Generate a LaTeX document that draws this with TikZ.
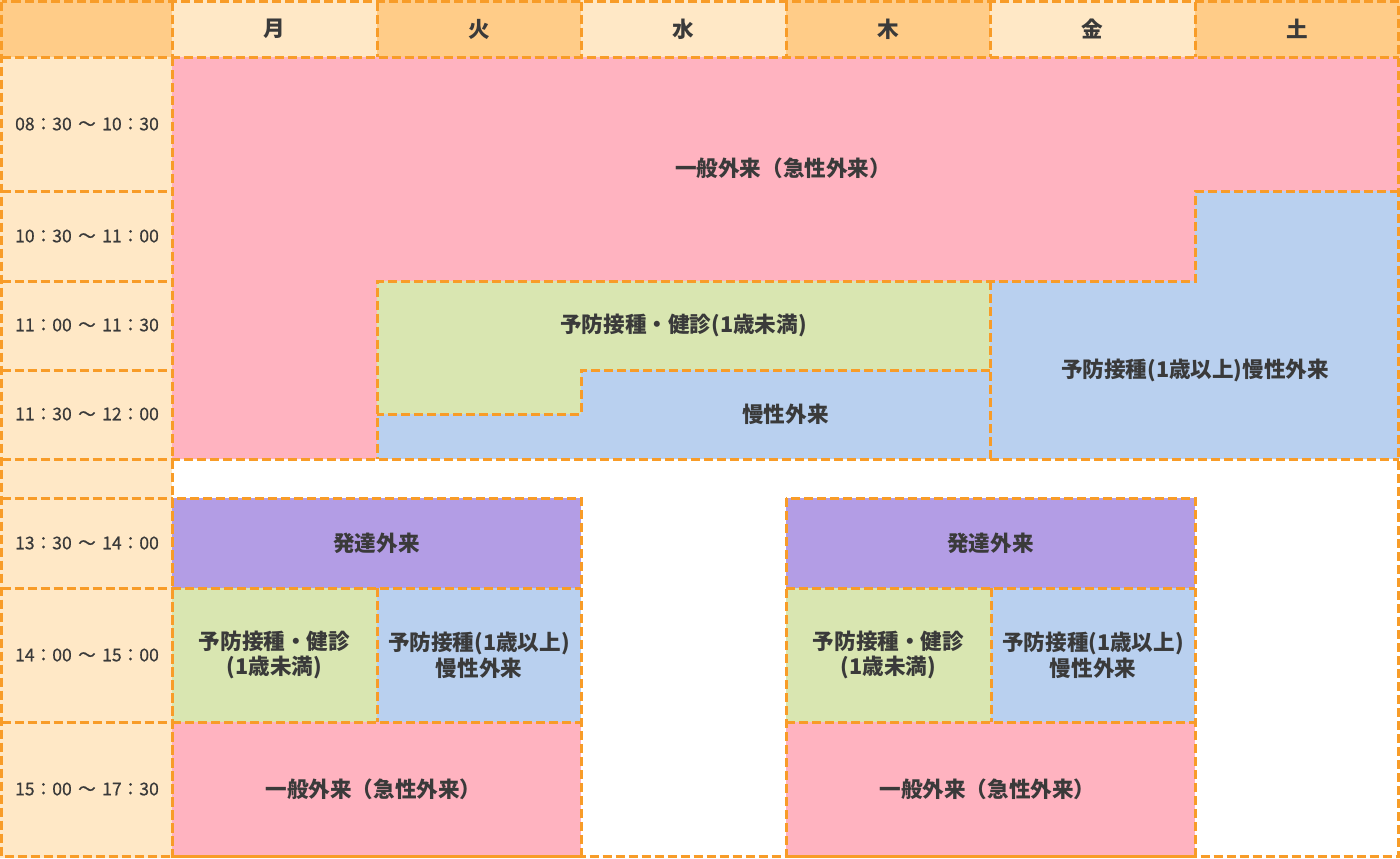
\documentclass[tikz,border=0pt]{standalone}
\usepackage{fontspec}
\setmainfont{Noto Sans CJK JP}
\newfontfamily\timefont[FakeBold=0.5]{Noto Sans CJK JP}
\newcommand\tsep{\hspace{3.2pt}}
\definecolor{hdark}{HTML}{FFCC88}
\definecolor{hlight}{HTML}{FFE8C6}
\definecolor{pinkc}{HTML}{FFB3C0}
\definecolor{greenc}{HTML}{D9E6B1}
\definecolor{bluec}{HTML}{B9D0EF}
\definecolor{purplec}{HTML}{B39DE5}
\definecolor{borderc}{HTML}{F89C28}
\definecolor{textc}{HTML}{3A3A3A}
\tikzset{
  gridline/.style={draw=borderc, line width=1.5pt, dash pattern=on 4.5pt off 2pt},
  blocklabel/.style={text=textc, font=\bfseries\fontsize{10.8}{12.8}\selectfont, align=center, inner sep=0pt},
  daylabel/.style={text=textc, font=\bfseries\fontsize{10.8}{12}\selectfont, inner sep=0pt},
  timelabel/.style={text=textc, font=\timefont\fontsize{8.8}{10}\selectfont, inner sep=0pt}
}
\begin{document}
\begin{tikzpicture}[x=0.5pt, y=-0.5pt]
\useasboundingbox (0,0) rectangle (1400,858);
\fill[white] (0,0) rectangle (1400,858);
% header
\fill[hdark] (0,0) rectangle (172,57);
\fill[hlight] (172,0) rectangle (377,57);
\fill[hdark] (377,0) rectangle (581,57);
\fill[hlight] (581,0) rectangle (786,57);
\fill[hdark] (786,0) rectangle (990,57);
\fill[hlight] (990,0) rectangle (1195,57);
\fill[hdark] (1195,0) rectangle (1400,57);
% time column
\fill[hlight] (0,57) rectangle (172,858);
% morning regions
\fill[pinkc] (172,57) -- (1400,57) -- (1400,191) -- (1195,191) -- (1195,281) -- (377,281) -- (377,459) -- (172,459) -- cycle;
\fill[greenc] (377,281) -- (990,281) -- (990,370) -- (581,370) -- (581,414) -- (377,414) -- cycle;
\fill[bluec] (581,370) -- (990,370) -- (990,459) -- (377,459) -- (377,414) -- (581,414) -- cycle;
\fill[bluec] (1195,191) -- (1400,191) -- (1400,459) -- (990,459) -- (990,281) -- (1195,281) -- cycle;
% afternoon blocks
\foreach \xo in {172,786} {
  \fill[purplec] (\xo,498) rectangle ({\xo+409},588);
  \fill[greenc] (\xo,588) rectangle ({\xo+205},722);
  \fill[bluec] ({\xo+205},588) rectangle ({\xo+409},722);
  \fill[pinkc] (\xo,722) rectangle ({\xo+409},858);
}
% grid lines
\draw[gridline] (1.5,1.5) rectangle (1398.5,856.5);
\draw[gridline] (1.5,57) -- (1398.5,57);
\foreach \cx in {172,377,581,786,990,1195} { \draw[gridline] (\cx,1.5) -- (\cx,57); }
\draw[gridline] (172,57) -- (172,856.5);
\foreach \ry in {191,281,370,498,588,722} { \draw[gridline] (1.5,\ry) -- (172,\ry); }
\draw[gridline] (1.5,459) -- (1398.5,459);
\draw[gridline] (1398.5,191) -- (1195,191) -- (1195,281) -- (377,281) -- (377,459);
\draw[gridline] (990,281) -- (990,459);
\draw[gridline] (990,370) -- (581,370) -- (581,414) -- (377,414);
\foreach \xo in {172,786} {
  \draw[gridline] (\xo,498) rectangle ({\xo+409},856.5);
  \draw[gridline] (\xo,588) -- ({\xo+409},588);
  \draw[gridline] (\xo,722) -- ({\xo+409},722);
  \draw[gridline] ({\xo+205},588) -- ({\xo+205},722);
}
% day labels
\node[daylabel] (dmon) at (274.5,29) {月};
\node[daylabel] (dtue) at (479,29) {火};
\node[daylabel] (dwed) at (683.5,29) {水};
\node[daylabel] (dthu) at (888,29) {木};
\node[daylabel] (dfri) at (1092.5,29) {金};
\node[daylabel] (dsat) at (1297.5,29) {土};
% time labels
\node[timelabel] (t1) at (87,124) {08：30\tsep～\tsep10：30};
\node[timelabel] (t2) at (87,236) {10：30\tsep～\tsep11：00};
\node[timelabel] (t3) at (87,325) {11：00\tsep～\tsep11：30};
\node[timelabel] (t4) at (87,414) {11：30\tsep～\tsep12：00};
\node[timelabel] (t5) at (87,543) {13：30\tsep～\tsep14：00};
\node[timelabel] (t6) at (87,655) {14：00\tsep～\tsep15：00};
\node[timelabel] (t7) at (87,789) {15：00\tsep～\tsep17：30};
% morning labels
\node[blocklabel] (m1) at (783,168) {一般外来（急性外来）};
\node[blocklabel] (m2) at (683.5,325) {予防接種・健診(1歳未満)};
\node[blocklabel] (m3) at (785.5,414) {慢性外来};
\node[blocklabel] (m4) at (1195,370) {予防接種(1歳以上)慢性外来};
% afternoon labels (Mon/Tue)
\node[blocklabel] (a1) at (376.5,543) {発達外来};
\node[blocklabel] (a2) at (274.5,655) {予防接種・健診\\(1歳未満)};
\node[blocklabel] (a3) at (479,655) {予防接種(1歳以上)\\慢性外来};
\node[blocklabel] (a4) at (373.5,789) {一般外来（急性外来）};
% afternoon labels (Thu/Fri)
\node[blocklabel] (b1) at (990.5,543) {発達外来};
\node[blocklabel] (b2) at (888.5,655) {予防接種・健診\\(1歳未満)};
\node[blocklabel] (b3) at (1093,655) {予防接種(1歳以上)\\慢性外来};
\node[blocklabel] (b4) at (987.5,789) {一般外来（急性外来）};
\end{tikzpicture}
\end{document}
